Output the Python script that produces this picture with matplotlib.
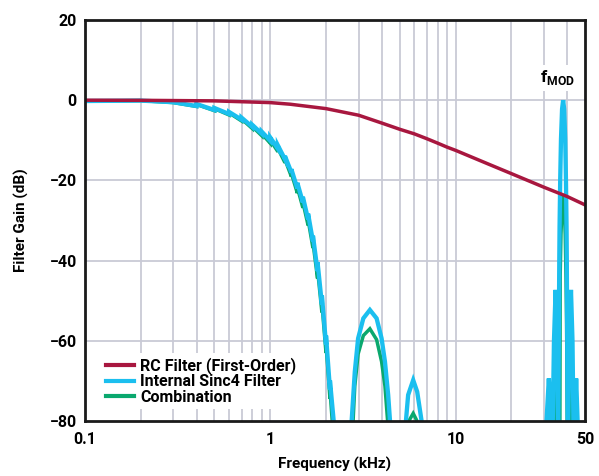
import numpy as np
import matplotlib
matplotlib.use("Agg")
import matplotlib.pyplot as plt
from matplotlib.ticker import FixedLocator, NullFormatter

plt.rcParams['font.family'] = ['Roboto', 'DejaVu Sans']
plt.rcParams['font.weight'] = 'bold'
plt.rcParams['mathtext.fontset'] = 'custom'
plt.rcParams['mathtext.bf'] = 'Roboto:bold'
plt.rcParams['mathtext.rm'] = 'Roboto:bold'

# ---------------- data ----------------
rc_freq = [0.1, 0.2, 0.5, 1.0, 1.28, 2.0, 3.0, 4.0, 5.0, 6.0, 7.0, 8.0, 9.0,
           10.0, 15.0, 20.0, 30.0, 40.0, 50.0]
rc_gain = [0.0, -0.03, -0.17, -0.6, -1.0, -2.1, -3.75, -5.7, -7.25, -8.4, -9.6,
           -10.7, -11.7, -12.5, -15.9, -18.3, -21.7, -24.0, -26.1]

# internal sinc4 filter (main lobe drawn with the small saw-tooth steps of the original)
sinc_freq = [0.1, 0.2, 0.3,
             0.4, 0.4, 0.5, 0.5, 0.6, 0.6, 0.7, 0.7, 0.8, 0.8, 0.9, 0.9,
             1.0, 1.0, 1.1, 1.1, 1.2, 1.2, 1.3, 1.3, 1.4, 1.4, 1.5, 1.5,
             1.6, 1.6, 1.7, 1.7, 1.8, 1.8, 1.9, 1.9, 2.0, 2.0, 2.1, 2.1,
             2.2, 2.4,
             2.75, 2.86, 2.98, 3.18, 3.45, 3.75, 3.99, 4.16, 4.33, 4.43, 4.8,
             5.4, 5.55, 5.91, 6.21, 6.56, 7.2, 20.0,
             31.0, 31.9, 32.7, 33.0, 33.5, 34.0, 34.7, 35.3, 35.7,
             35.9, 36.1, 36.32, 36.45, 36.74, 37.1, 37.6, 38.1,
             38.6, 39.1, 39.46, 39.75, 39.88, 40.1, 40.3,
             40.6, 41.2, 42.0, 42.8, 43.3, 43.7, 44.1, 44.8, 45.6, 46.0, 50.0]
sinc_gain = [-0.2, -0.1, -0.5,
             -1.45, -0.95, -2.45, -1.95, -3.45, -2.95, -4.85, -4.35, -6.65, -6.15, -8.35, -7.85,
             -10.1, -9.3, -12.1, -11.3, -14.7, -13.9, -18.0, -17.2, -22.0, -20.6, -25.5, -24.1,
             -29.7, -28.3, -35.2, -33.8, -42.6, -40.4, -50.9, -48.7, -60.9, -58.7, -72.1, -69.9,
             -80.0, -110.0,
             -80.0, -67.7, -59.4, -54.4, -52.3, -54.4, -59.4, -65.2, -73.5, -80.0, -110.0,
             -80.0, -73.5, -69.8, -72.7, -80.0, -110.0, -110.0,
             -80.0, -69.4, -80.0, -100.0, -80.0, -60.0, -47.3, -60.0, -80.0,
             -80.0, -60.0, -40.0, -31.6, -19.9, -9.7, -2.2, 0.0,
             -2.2, -9.7, -19.9, -31.6, -40.0, -60.0, -80.0,
             -80.0, -60.0, -47.3, -60.0, -80.0, -100.0, -80.0, -69.4, -80.0, -100.0, -110.0]

# combination (RC + sinc4)
comb_freq = [0.1, 0.2, 0.3,
             0.4, 0.4, 0.5, 0.5, 0.6, 0.6, 0.7, 0.7, 0.8, 0.8, 0.9, 0.9,
             1.0, 1.0, 1.1, 1.1, 1.2, 1.2, 1.3, 1.3, 1.4, 1.4, 1.5, 1.5,
             1.6, 1.6, 1.7, 1.7, 1.8, 1.8, 1.9, 1.9, 2.0, 2.0, 2.1, 2.1,
             2.16, 2.4,
             2.8, 2.86, 2.98, 3.18, 3.45, 3.75, 3.99, 4.16, 4.3, 4.8,
             5.6, 5.91, 6.2, 7.2, 20.0,
             34.0, 34.7, 35.3, 36.0,
             36.6, 36.74, 37.1, 37.6, 38.1, 38.6, 39.1, 39.46, 39.75, 39.9, 40.05,
             40.6, 41.3, 42.0, 42.7, 43.5, 50.0]
comb_gain = [-0.2, -0.1, -0.6,
             -1.56, -1.06, -2.62, -2.12, -3.69, -3.19, -5.18, -4.68, -7.07, -6.57, -8.87, -8.37,
             -10.74, -9.94, -12.86, -12.06, -15.59, -14.79, -19.03, -18.23, -23.17, -21.77,
             -26.84, -25.44, -31.2, -29.8, -36.87, -35.47, -44.45, -42.25, -52.9, -50.7,
             -63.05, -60.85, -74.4, -72.2,
             -80.0, -110.0,
             -80.0, -71.3, -63.3, -58.7, -57.0, -59.7, -65.2, -71.3, -80.0, -110.0,
             -80.0, -78.1, -80.0, -110.0, -110.0,
             -80.0, -70.6, -80.0, -100.0,
             -80.0, -43.6, -33.4, -26.0, -23.7, -26.0, -33.5, -43.7, -55.4, -64.0, -80.0,
             -100.0, -80.0, -71.0, -80.0, -100.0, -110.0]

labels = ["RC Filter (First-Order)", "Internal Sinc4 Filter", "Combination"]
colors = ["#A8173F", "#1BBFEF", "#0AA86E"]

x_major = [0.1, 1, 10, 50]
x_major_labels = ["0.1", "1", "10", "50"]
x_grid = [0.2, 0.3, 0.4, 0.5, 0.6, 0.7, 0.8, 0.9, 1,
          2, 3, 4, 5, 6, 7, 8, 9, 10, 20, 30, 40]
y_ticks = [-80, -60, -40, -20, 0, 20]
y_tick_labels = ["\u221280", "\u221260", "\u221240", "\u221220", "0", "20"]
fmod_freq = 38.1

# ---------------- figure ----------------
fig = plt.figure(figsize=(5.99, 4.76), dpi=100)
ax = fig.add_axes([85 / 599, 1 - 421 / 476, 500 / 599, 401 / 476])
ax.set_xscale('log')
ax.set_xlim(0.1, 50)
ax.set_ylim(-80, 20)

grid_color = "#C9CAD6"
for g in x_grid:
    ax.axvline(g, color=grid_color, lw=1.3, zorder=0)
for yv in y_ticks[1:-1]:
    ax.axhline(yv, color=grid_color, lw=1.3, zorder=0)

ax.plot(comb_freq, comb_gain, color=colors[2], lw=2.5, zorder=2,
        solid_joinstyle='miter', label=labels[2])
ax.plot(sinc_freq, sinc_gain, color=colors[1], lw=3.1, zorder=3,
        solid_joinstyle='miter', label=labels[1])
ax.plot(rc_freq, rc_gain, color=colors[0], lw=2.5, zorder=4, label=labels[0])

ax.xaxis.set_major_locator(FixedLocator(x_major))
ax.set_xticklabels(x_major_labels)
ax.xaxis.set_minor_locator(FixedLocator([]))
ax.xaxis.set_minor_formatter(NullFormatter())
ax.set_yticks(y_ticks)
ax.set_yticklabels(y_tick_labels)
ax.tick_params(axis='both', length=0, labelsize=11.5)
ax.tick_params(axis='x', pad=8)
ax.tick_params(axis='y', pad=6)
for lab in ax.get_xticklabels() + ax.get_yticklabels():
    lab.set_fontweight('bold')

for sp in ax.spines.values():
    sp.set_linewidth(2.0)
    sp.set_color('#1a1a1a')
    sp.set_zorder(6)

ax.set_xlabel("Frequency (kHz)", fontsize=11, fontweight='bold', labelpad=7)
ax.set_ylabel("Filter Gain (dB)", fontsize=11, fontweight='bold', labelpad=15)

handles, labs = ax.get_legend_handles_labels()
order = [2, 1, 0]
leg = ax.legend([handles[i] for i in order], [labs[i] for i in order],
                loc='lower left', bbox_to_anchor=(0.035, 0.03), frameon=True,
                fancybox=False, facecolor='white', edgecolor='none', framealpha=1.0,
                fontsize=11.5, handlelength=1.7, handletextpad=0.4,
                labelspacing=0.03, borderaxespad=0.0, borderpad=0.25)
leg.set_zorder(5)
for t in leg.get_texts():
    t.set_fontweight('bold')
for lh in leg.get_lines():
    lh.set_linewidth(3.0)

# f_MOD label with white background
ax.annotate(r"$\mathbf{f}_{\mathbf{MOD}}$", xy=(fmod_freq, 5.6), xytext=(-4, 0),
            textcoords='offset points', ha='center', va='center', fontsize=12.5,
            zorder=7, bbox=dict(boxstyle='square,pad=0.2', fc='white', ec='none'))

fig.savefig("out.png", dpi=100)
